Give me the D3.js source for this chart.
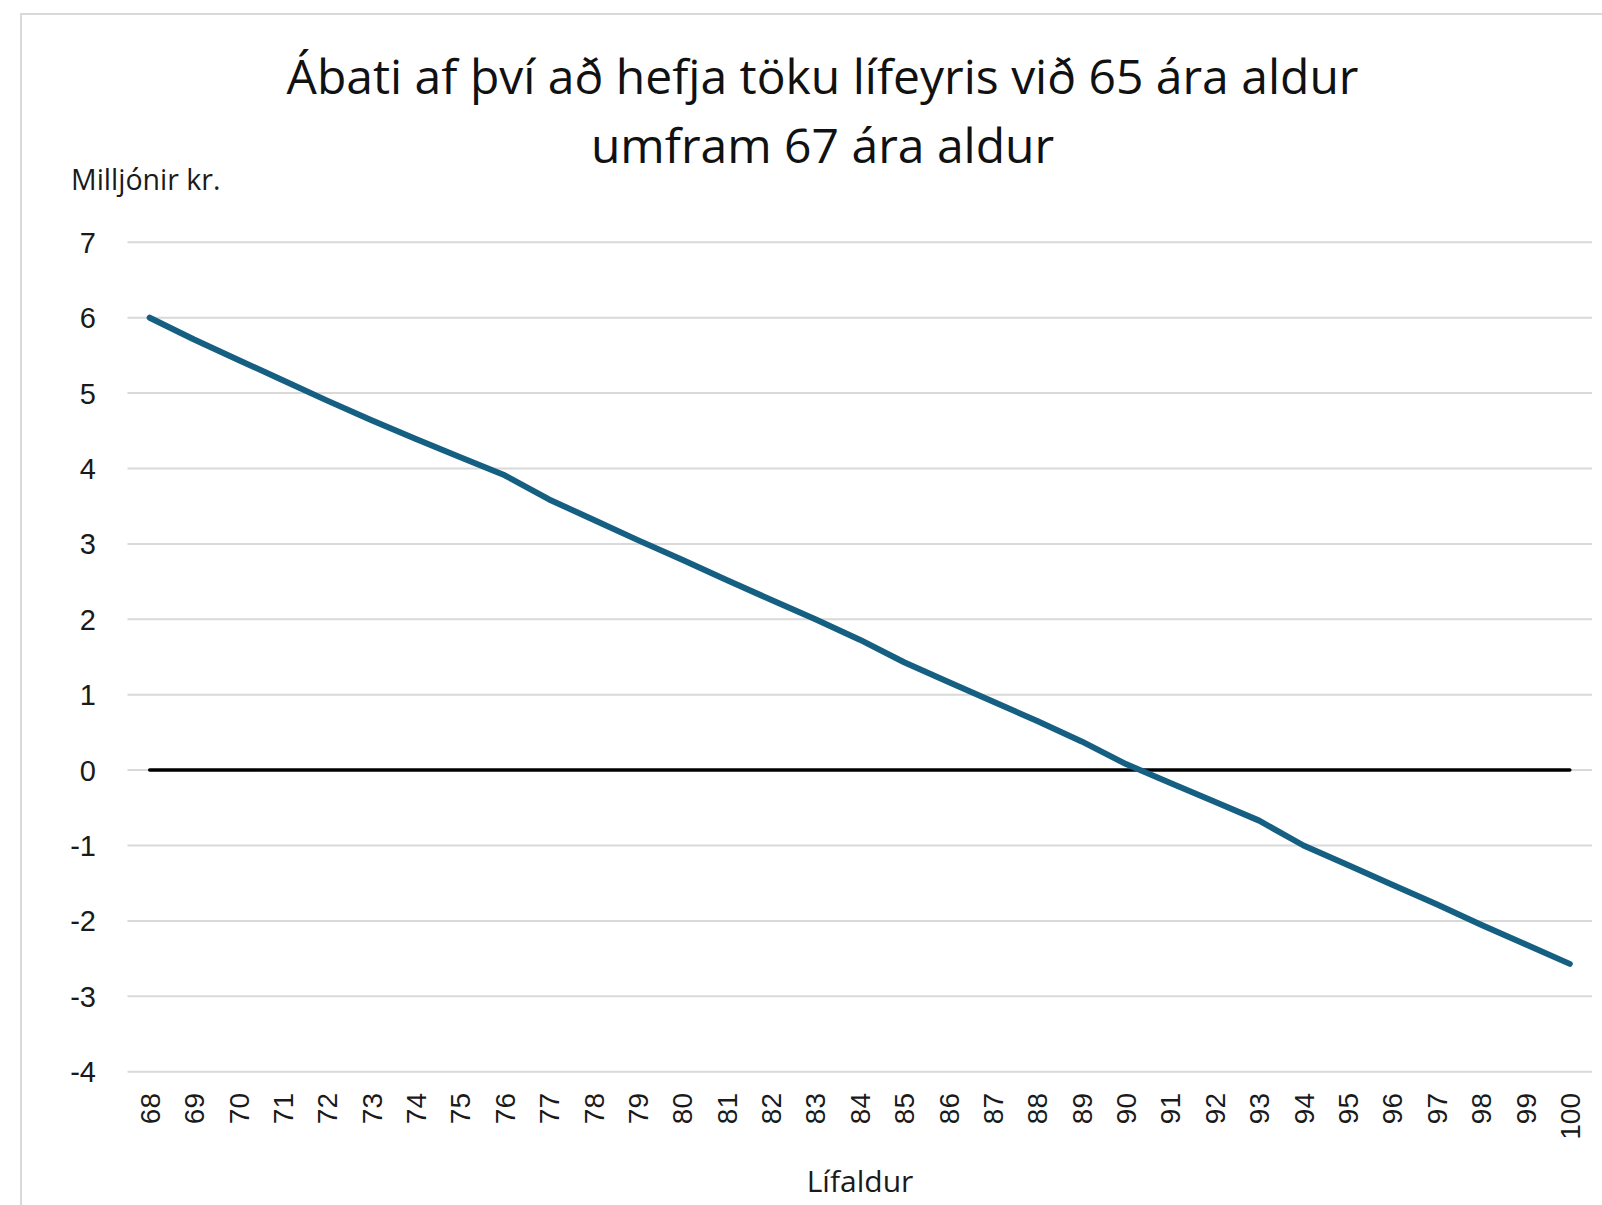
<!DOCTYPE html>
<html>
<head>
<meta charset="utf-8">
<script src="https://d3js.org/d3.v7.min.js"></script>
<style>
  body { margin: 0; background: #fff; }
  svg { display: block; }
</style>
</head>
<body>
<div id="chart"></div>
<script>
// data
var ages = [68, 69, 70, 71, 72, 73, 74, 75, 76, 77, 78, 79, 80, 81, 82, 83, 84,
            85, 86, 87, 88, 89, 90, 91, 92, 93, 94, 95, 96, 97, 98, 99, 100]
var gain = [6.00, 5.71, 5.44, 5.17, 4.90, 4.64, 4.39, 4.15, 3.91, 3.59, 3.32, 3.05,
            2.79, 2.52, 2.26, 2.00, 1.73, 1.43, 1.17, 0.91, 0.65, 0.38, 0.08, -0.17,
            -0.42, -0.67, -1.00, -1.26, -1.52, -1.78, -2.05, -2.31, -2.57]
var zero_line = ages.map(function(){ return 0 })
var y_ticks = [7, 6, 5, 4, 3, 2, 1, 0, -1, -2, -3, -4]

var title_lines = ["Ábati af því að hefja töku lífeyris við 65 ára aldur", "umfram 67 ára aldur"]
var y_title = "Milljónir kr."
var x_title = "Lífaldur"

var width = 1602
var height = 1205
var text_font = "'Open Sans', 'Noto Sans', sans-serif"
var tick_font = "'Liberation Sans', Arial, sans-serif"

var svg = d3.select("#chart").append("svg")
    .attr("width", width)
    .attr("height", height)

// chart frame
svg.append("rect")
    .attr("x", 21)
    .attr("y", 14)
    .attr("width", 1603)
    .attr("height", 1230)
    .attr("fill", "white")
    .attr("stroke", "#d9d9d9")
    .attr("stroke-width", 2)

var x = d3.scalePoint()
    .domain(ages)
    .range([127.5, 1592])
    .padding(0.5)

var y = d3.scaleLinear()
    .domain([-4, 7])
    .range([1071.7, 242.3])

// gridlines
svg.append("g")
    .selectAll(".grid")
    .data(y_ticks).enter()
    .append("line")
    .attr("class", "grid")
    .attr("x1", 127.5)
    .attr("x2", 1592)
    .attr("y1", function(d){ return y(d) })
    .attr("y2", function(d){ return y(d) })
    .attr("stroke", "#d9d9d9")
    .attr("stroke-width", 2)

// y tick labels
svg.append("g")
    .selectAll(".ylab")
    .data(y_ticks).enter()
    .append("text")
    .attr("class", "ylab")
    .text(function(d){ return d })
    .attr("x", 96)
    .attr("y", function(d){ return y(d) })
    .attr("dy", "0.36em")
    .attr("text-anchor", "end")
    .attr("font-family", tick_font)
    .attr("font-size", 29)
    .attr("fill", "#1a1a1a")

// x tick labels, rotated
svg.append("g")
    .selectAll(".xlab")
    .data(ages).enter()
    .append("text")
    .attr("class", "xlab")
    .text(function(d){ return d })
    .attr("transform", function(d){ return "translate(" + x(d) + ",1093) rotate(-90)" })
    .attr("dy", "0.36em")
    .attr("text-anchor", "end")
    .attr("font-family", tick_font)
    .attr("font-size", 28)
    .attr("fill", "#1a1a1a")

var line = d3.line()
    .x(function(d, i){ return x(ages[i]) })
    .y(function(d){ return y(d) })

// zero series in black
svg.append("path")
    .datum(zero_line)
    .attr("d", line)
    .attr("fill", "none")
    .attr("stroke", "black")
    .attr("stroke-width", 3.5)
    .attr("stroke-linecap", "round")

svg.append("path")
    .datum(gain)
    .attr("d", line)
    .attr("fill", "none")
    .attr("stroke", "#156082")
    .attr("stroke-width", 6)
    .attr("stroke-linecap", "round")
    .attr("stroke-linejoin", "round")

// TEXT
svg.selectAll(".title")
    .data(title_lines).enter()
    .append("text")
    .attr("class", "title")
    .text(function(d){ return d })
    .attr("x", 822.5)
    .attr("y", function(d, i){ return 94 + i*69 })
    .attr("text-anchor", "middle")
    .attr("font-family", text_font)
    .attr("font-size", 48)
    .attr("fill", "#111")

svg.append("text")
    .text(y_title)
    .attr("x", 71)
    .attr("y", 190)
    .attr("font-family", text_font)
    .attr("font-size", 28.5)
    .attr("fill", "#1a1a1a")

svg.append("text")
    .text(x_title)
    .attr("x", 860)
    .attr("y", 1192)
    .attr("text-anchor", "middle")
    .attr("font-family", text_font)
    .attr("font-size", 30)
    .attr("fill", "#1a1a1a")
</script>
</body>
</html>
